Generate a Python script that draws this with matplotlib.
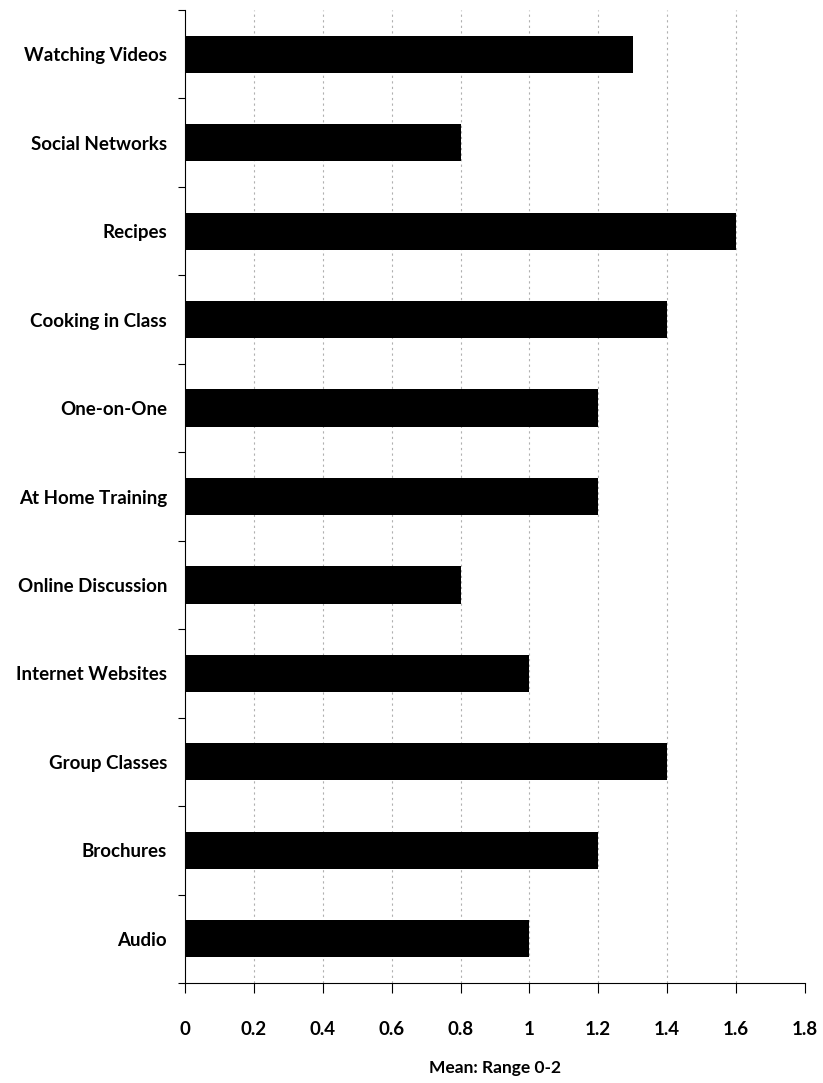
import matplotlib.pyplot as plt
import numpy as np

# categories top to bottom as in the picture
categories = ['Watching Videos', 'Social Networks', 'Recipes', 'Cooking in Class',
              'One-on-One', 'At Home Training', 'Online Discussion',
              'Internet Websites', 'Group Classes', 'Brochures', 'Audio']
means = [1.3, 0.8, 1.6, 1.4, 1.2, 1.2, 0.8, 1.0, 1.4, 1.2, 1.0]
xticks = [0, 0.2, 0.4, 0.6, 0.8, 1, 1.2, 1.4, 1.6, 1.8]
xtick_labels = ['0', '0.2', '0.4', '0.6', '0.8', '1', '1.2', '1.4', '1.6', '1.8']

plt.rcParams['font.family'] = ['Lato', 'DejaVu Sans']

fig = plt.figure(figsize=(8.23, 10.83), dpi=100)
ax = fig.add_axes([0.2248, 0.0923, 0.7532, 0.8985])

y_pos = np.arange(len(categories))[::-1]
ax.barh(y_pos, means, height=0.42, color='black', zorder=3)

ax.set_xlim(0, 1.8)
ax.set_ylim(-0.5, len(categories) - 0.5)
ax.set_xticks(xticks)
ax.set_xticklabels(xtick_labels, fontsize=13.5, fontweight='bold')
ax.set_yticks(y_pos)
ax.set_yticklabels(categories, fontsize=13.5, fontweight='bold')
ax.tick_params(axis='y', length=0, pad=13)
ax.tick_params(axis='x', length=7, width=0.8, pad=20)

# small ticks between the categories
ax.set_yticks(np.arange(len(categories) + 1) - 0.5, minor=True)
ax.tick_params(axis='y', which='minor', length=5, width=0.8)

for x in xticks[1:-1]:
    ax.axvline(x, color='#b0b0b0', linestyle=(0, (2, 3)), linewidth=0.8, zorder=1)

ax.spines['top'].set_visible(False)
ax.spines['right'].set_visible(False)
ax.spines['left'].set_linewidth(0.8)
ax.spines['bottom'].set_linewidth(0.8)

ax.set_xlabel('Mean: Range 0-2', fontsize=12.5, fontweight='bold', labelpad=16)

fig.savefig('out.png', dpi=100)
